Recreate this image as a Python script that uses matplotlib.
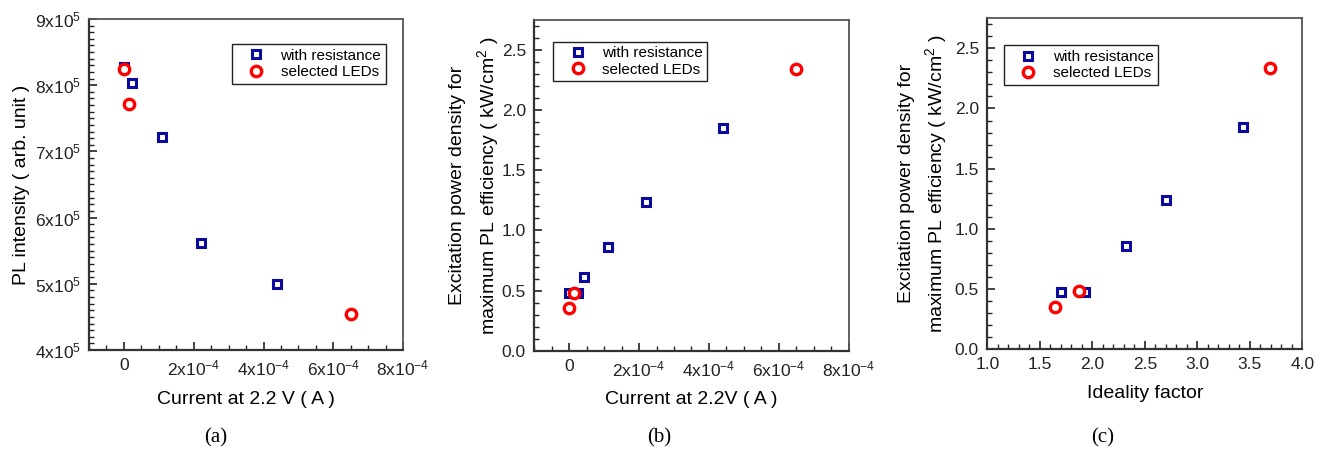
import matplotlib
matplotlib.use("Agg")
import matplotlib.pyplot as plt
from matplotlib.ticker import MultipleLocator, FuncFormatter

plt.rcParams['font.family'] = ['Liberation Sans', 'DejaVu Sans']
plt.rcParams['mathtext.fontset'] = 'custom'
plt.rcParams['mathtext.rm'] = 'Liberation Sans'
plt.rcParams['mathtext.it'] = 'Liberation Sans:italic'
plt.rcParams['mathtext.default'] = 'regular'

# (a) PL intensity vs current
a_res_x = [0.0, 0.24e-4, 1.1e-4, 2.2e-4, 4.4e-4]
a_res_y = [8.28e5, 8.04e5, 7.21e5, 5.62e5, 4.99e5]
a_sel_x = [0.0, 0.15e-4, 6.5e-4]
a_sel_y = [8.25e5, 7.72e5, 4.55e5]

# (b) excitation power density vs current
b_res_x = [0.0, 0.24e-4, 0.43e-4, 1.1e-4, 2.2e-4, 4.4e-4]
b_res_y = [0.477, 0.477, 0.61, 0.86, 1.24, 1.854]
b_sel_x = [0.0, 0.14e-4, 6.5e-4]
b_sel_y = [0.352, 0.48, 2.342]

# (c) excitation power density vs ideality factor
c_res_x = [1.70, 1.933, 2.317, 2.70, 3.44]
c_res_y = [0.478, 0.478, 0.86, 1.239, 1.85]
c_sel_x = [1.648, 1.87, 3.69]
c_sel_y = [0.351, 0.48, 2.34]

BLUE = '#0a0a9e'
RED = '#ff0000'
ylab_exc = 'Excitation power density for\nmaximum PL efficiency ( kW/cm$^{2}$ )'


def fmt_e4(v, pos):
    m = int(round(v / 1e-4))
    return '0' if m == 0 else '%dx10$^{-4}$' % m


def fmt_e5(v, pos):
    return '%dx10$^{5}$' % int(round(v / 1e5))


def style(ax):
    for s in ['left', 'bottom']:
        ax.spines[s].set_color('#333333')
        ax.spines[s].set_linewidth(1.6)
    for s in ['top', 'right']:
        ax.spines[s].set_color('#555555')
        ax.spines[s].set_linewidth(1.3)
    ax.tick_params(which='both', direction='in', top=False, right=False,
                   labelsize=12.5, colors='#222222', pad=6)
    ax.tick_params(which='major', length=6, width=1.2)
    ax.tick_params(which='minor', length=3.5, width=1.0)


def scatter(ax, rx, ry, sx, sy, anchor):
    ax.plot(rx, ry, 's', ms=6.3, mfc='white', mec=BLUE, mew=2.2,
            ls='none', label='with resistance')
    ax.plot(sx, sy, 'o', ms=7.5, mfc='white', mec=RED, mew=2.4,
            ls='none', label='selected LEDs')
    leg = ax.legend(loc='upper left', bbox_to_anchor=anchor, borderaxespad=0,
                    fancybox=False, edgecolor='#222222', fontsize=11,
                    handlelength=2.6, handletextpad=0.3, borderpad=0.3,
                    labelspacing=0.15, framealpha=1)
    leg.get_frame().set_linewidth(1.0)


fig = plt.figure(figsize=(13.29, 4.54), dpi=100)

ax1 = fig.add_axes([0.0670, 0.2291, 0.2363, 0.7291])
ax2 = fig.add_axes([0.4020, 0.2275, 0.2366, 0.7284])
ax3 = fig.add_axes([0.7429, 0.2313, 0.2370, 0.7284])

# (a)
scatter(ax1, a_res_x, a_res_y, a_sel_x, a_sel_y, (0.454, 0.924))
ax1.set_xlim(-1e-4, 8e-4)
ax1.set_ylim(4e5, 9e5)
ax1.xaxis.set_major_locator(MultipleLocator(2e-4))
ax1.xaxis.set_minor_locator(MultipleLocator(0.5e-4))
ax1.yaxis.set_major_locator(MultipleLocator(1e5))
ax1.yaxis.set_minor_locator(MultipleLocator(1e4))
ax1.xaxis.set_major_formatter(FuncFormatter(fmt_e4))
ax1.yaxis.set_major_formatter(FuncFormatter(fmt_e5))
ax1.set_xlabel('Current at 2.2 V ( A )', fontsize=14, labelpad=9)
ax1.set_ylabel('PL intensity ( arb. unit )', fontsize=14, labelpad=3)
style(ax1)

# (b)
scatter(ax2, b_res_x, b_res_y, b_sel_x, b_sel_y, (0.060, 0.934))
ax2.set_xlim(-1e-4, 8e-4)
ax2.set_ylim(0, 2.75)
ax2.xaxis.set_major_locator(MultipleLocator(2e-4))
ax2.xaxis.set_minor_locator(MultipleLocator(0.5e-4))
ax2.yaxis.set_major_locator(MultipleLocator(0.5))
ax2.yaxis.set_minor_locator(MultipleLocator(0.1))
ax2.xaxis.set_major_formatter(FuncFormatter(fmt_e4))
ax2.yaxis.set_major_formatter(FuncFormatter(lambda v, p: '%.1f' % v))
ax2.set_xlabel('Current at 2.2V ( A )', fontsize=14, labelpad=9)
ax2.set_ylabel(ylab_exc, fontsize=14, labelpad=0.5, linespacing=1.45)
style(ax2)

# (c)
scatter(ax3, c_res_x, c_res_y, c_sel_x, c_sel_y, (0.053, 0.918))
ax3.set_xlim(1.0, 4.0)
ax3.set_ylim(0, 2.75)
ax3.xaxis.set_major_locator(MultipleLocator(0.5))
ax3.xaxis.set_minor_locator(MultipleLocator(0.1))
ax3.yaxis.set_major_locator(MultipleLocator(0.5))
ax3.yaxis.set_minor_locator(MultipleLocator(0.1))
ax3.xaxis.set_major_formatter(FuncFormatter(lambda v, p: '%.1f' % v))
ax3.yaxis.set_major_formatter(FuncFormatter(lambda v, p: '%.1f' % v))
ax3.set_xlabel('Ideality factor', fontsize=14, labelpad=9)
ax3.set_ylabel(ylab_exc, fontsize=14, labelpad=4, linespacing=1.45)
style(ax3)

# panel captions
for x, t in [(216, '(a)'), (659, '(b)'), (1103, '(c)')]:
    fig.text(x / 1329, 1 - 438 / 454, t, ha='center', va='center',
             fontsize=15, family='Liberation Serif')

fig.savefig('out.png', dpi=100)
